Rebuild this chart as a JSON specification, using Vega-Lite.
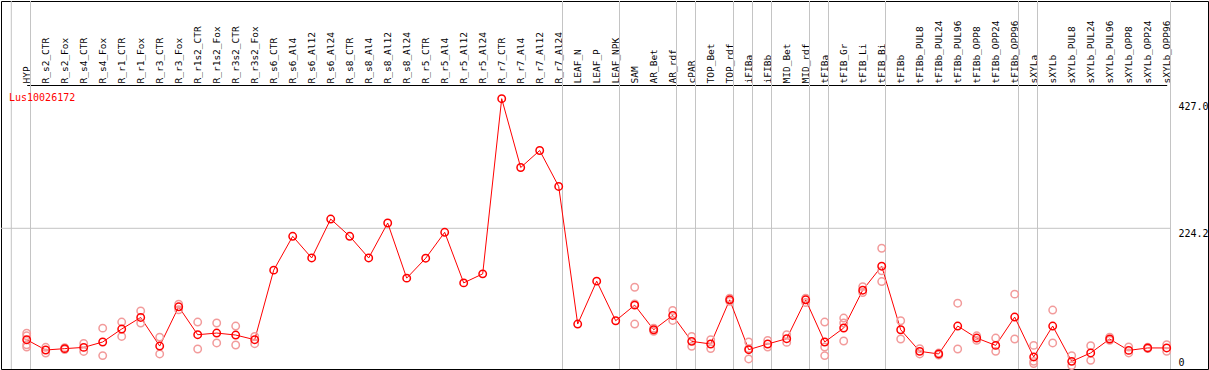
{
  "$schema": "https://vega.github.io/schema/vega-lite/v6.json",
  "width": 1207,
  "height": 368,
  "autosize": "none",
  "padding": {"left": 1, "top": 1, "right": 1, "bottom": 1},
  "background": "white",
  "view": {"stroke": "black", "strokeWidth": 1},
  "title": {
    "text": "Lus10026172",
    "color": "#ff0000",
    "font": "DejaVu Sans Mono",
    "fontSize": 10,
    "fontWeight": "normal",
    "anchor": "start",
    "frame": "group",
    "orient": "top",
    "offset": -110,
    "dx": 8,
    "baseline": "alphabetic"
  },
  "datasets": {
    "means": [
      {"sample": "HYP", "value": 49.9},
      {"sample": "R_s2_CTR", "value": 33.8},
      {"sample": "R_s2_Fox", "value": 35.9},
      {"sample": "R_s4_CTR", "value": 37.9},
      {"sample": "R_s4_Fox", "value": 46.3},
      {"sample": "R_r1_CTR", "value": 66.6},
      {"sample": "R_r1_Fox", "value": 84.7},
      {"sample": "R_r3_CTR", "value": 40.0},
      {"sample": "R_r3_Fox", "value": 101.4},
      {"sample": "R_r1s2_CTR", "value": 57.7},
      {"sample": "R_r1s2_Fox", "value": 60.3},
      {"sample": "R_r3s2_CTR", "value": 57.2},
      {"sample": "R_r3s2_Fox", "value": 49.9},
      {"sample": "R_s6_CTR", "value": 158.7},
      {"sample": "R_s6_Al4", "value": 211.7},
      {"sample": "R_s6_Al12", "value": 177.8},
      {"sample": "R_s6_Al24", "value": 238.7},
      {"sample": "R_s8_CTR", "value": 211.7},
      {"sample": "R_s8_Al4", "value": 177.8},
      {"sample": "R_s8_Al12", "value": 232.5},
      {"sample": "R_s8_Al24", "value": 146.2},
      {"sample": "R_r5_CTR", "value": 177.4},
      {"sample": "R_r5_Al4", "value": 217.9},
      {"sample": "R_r5_Al12", "value": 138.8},
      {"sample": "R_r5_Al24", "value": 152.9},
      {"sample": "R_r7_CTR", "value": 427.0},
      {"sample": "R_r7_Al4", "value": 319.3},
      {"sample": "R_r7_Al12", "value": 345.9},
      {"sample": "R_r7_Al24", "value": 289.7},
      {"sample": "LEAF_N", "value": 74.4},
      {"sample": "LEAF_P", "value": 141.5},
      {"sample": "LEAF_NPK", "value": 79.6},
      {"sample": "SAM", "value": 104.0},
      {"sample": "AR_Bet", "value": 65.5},
      {"sample": "AR_rdf", "value": 87.9},
      {"sample": "cPAR", "value": 47.3},
      {"sample": "TOP_Bet", "value": 43.2},
      {"sample": "TOP_rdf", "value": 112.3},
      {"sample": "iFIBa", "value": 34.3},
      {"sample": "iFIBb", "value": 43.2},
      {"sample": "MID_Bet", "value": 51.5},
      {"sample": "MID_rdf", "value": 112.3},
      {"sample": "tFIBa", "value": 46.3},
      {"sample": "tFIB_Gr", "value": 68.2},
      {"sample": "tFIB_Li", "value": 127.4},
      {"sample": "tFIB_Bi", "value": 164.9},
      {"sample": "tFIBb", "value": 65.5},
      {"sample": "tFIBb_PUL8", "value": 31.7},
      {"sample": "tFIBb_PUL24", "value": 27.6},
      {"sample": "tFIBb_PUL96", "value": 71.3},
      {"sample": "tFIBb_OPP8", "value": 52.5},
      {"sample": "tFIBb_OPP24", "value": 41.0},
      {"sample": "tFIBb_OPP96", "value": 85.3},
      {"sample": "sXYLa", "value": 22.9},
      {"sample": "sXYLb", "value": 71.3},
      {"sample": "sXYLb_PUL8", "value": 16.0},
      {"sample": "sXYLb_PUL24", "value": 29.2},
      {"sample": "sXYLb_PUL96", "value": 51.0},
      {"sample": "sXYLb_OPP8", "value": 33.2},
      {"sample": "sXYLb_OPP24", "value": 37.0},
      {"sample": "sXYLb_OPP96", "value": 37.0}
    ],
    "reps": [
      {"sample": "HYP", "value": 60}, {"sample": "HYP", "value": 56}, {"sample": "HYP", "value": 42}, {"sample": "HYP", "value": 38.5},
      {"sample": "R_s2_CTR", "value": 38}, {"sample": "R_s2_CTR", "value": 29},
      {"sample": "R_s2_Fox", "value": 37.5}, {"sample": "R_s2_Fox", "value": 34.5},
      {"sample": "R_s4_CTR", "value": 44}, {"sample": "R_s4_CTR", "value": 31.5},
      {"sample": "R_s4_Fox", "value": 68}, {"sample": "R_s4_Fox", "value": 25},
      {"sample": "R_r1_CTR", "value": 77.5}, {"sample": "R_r1_CTR", "value": 55},
      {"sample": "R_r1_Fox", "value": 95}, {"sample": "R_r1_Fox", "value": 76},
      {"sample": "R_r3_CTR", "value": 54}, {"sample": "R_r3_CTR", "value": 27.6},
      {"sample": "R_r3_Fox", "value": 105.6}, {"sample": "R_r3_Fox", "value": 96.7},
      {"sample": "R_r1s2_CTR", "value": 77.5}, {"sample": "R_r1s2_CTR", "value": 35.4},
      {"sample": "R_r1s2_Fox", "value": 76}, {"sample": "R_r1s2_Fox", "value": 44.8},
      {"sample": "R_r3s2_CTR", "value": 71.3}, {"sample": "R_r3s2_CTR", "value": 41.6},
      {"sample": "R_r3s2_Fox", "value": 55}, {"sample": "R_r3s2_Fox", "value": 43.7},
      {"sample": "SAM", "value": 132}, {"sample": "SAM", "value": 106}, {"sample": "SAM", "value": 74.4},
      {"sample": "AR_Bet", "value": 68}, {"sample": "AR_Bet", "value": 63},
      {"sample": "AR_rdf", "value": 95.6}, {"sample": "AR_rdf", "value": 80},
      {"sample": "cPAR", "value": 55}, {"sample": "cPAR", "value": 39.5},
      {"sample": "TOP_Bet", "value": 50}, {"sample": "TOP_Bet", "value": 36},
      {"sample": "TOP_rdf", "value": 115}, {"sample": "TOP_rdf", "value": 110},
      {"sample": "iFIBa", "value": 46.3}, {"sample": "iFIBa", "value": 36}, {"sample": "iFIBa", "value": 19.8},
      {"sample": "iFIBb", "value": 48.8}, {"sample": "iFIBb", "value": 38.5},
      {"sample": "MID_Bet", "value": 57.7}, {"sample": "MID_Bet", "value": 45.7},
      {"sample": "MID_rdf", "value": 115}, {"sample": "MID_rdf", "value": 108},
      {"sample": "tFIBa", "value": 77.5}, {"sample": "tFIBa", "value": 38.5}, {"sample": "tFIBa", "value": 25},
      {"sample": "tFIB_Gr", "value": 83.8}, {"sample": "tFIB_Gr", "value": 76}, {"sample": "tFIB_Gr", "value": 47.9},
      {"sample": "tFIB_Li", "value": 133}, {"sample": "tFIB_Li", "value": 123.7},
      {"sample": "tFIB_Bi", "value": 193}, {"sample": "tFIB_Bi", "value": 157.6}, {"sample": "tFIB_Bi", "value": 140.9},
      {"sample": "tFIBb", "value": 79.6}, {"sample": "tFIBb", "value": 51},
      {"sample": "tFIBb_PUL8", "value": 35.9}, {"sample": "tFIBb_PUL8", "value": 27.6},
      {"sample": "tFIBb_PUL24", "value": 29}, {"sample": "tFIBb_PUL24", "value": 26},
      {"sample": "tFIBb_PUL96", "value": 107}, {"sample": "tFIBb_PUL96", "value": 35.4},
      {"sample": "tFIBb_OPP8", "value": 56}, {"sample": "tFIBb_OPP8", "value": 48.8},
      {"sample": "tFIBb_OPP24", "value": 52.5}, {"sample": "tFIBb_OPP24", "value": 31.7},
      {"sample": "tFIBb_OPP96", "value": 121.2}, {"sample": "tFIBb_OPP96", "value": 51},
      {"sample": "sXYLa", "value": 41}, {"sample": "sXYLa", "value": 16}, {"sample": "sXYLa", "value": 12.5},
      {"sample": "sXYLb", "value": 96.3}, {"sample": "sXYLb", "value": 44.8},
      {"sample": "sXYLb_PUL8", "value": 25}, {"sample": "sXYLb_PUL8", "value": 9.4},
      {"sample": "sXYLb_PUL24", "value": 40.6}, {"sample": "sXYLb_PUL24", "value": 17.6},
      {"sample": "sXYLb_PUL96", "value": 54}, {"sample": "sXYLb_PUL96", "value": 49},
      {"sample": "sXYLb_OPP8", "value": 38.5}, {"sample": "sXYLb_OPP8", "value": 29.2},
      {"sample": "sXYLb_OPP24", "value": 38}, {"sample": "sXYLb_OPP24", "value": 36},
      {"sample": "sXYLb_OPP96", "value": 42}, {"sample": "sXYLb_OPP96", "value": 31.7}
    ],
    "groupEnds": [
      {"sample": "HYP"}, {"sample": "R_r7_Al24"}, {"sample": "LEAF_NPK"}, {"sample": "AR_rdf"},
      {"sample": "cPAR"}, {"sample": "TOP_rdf"}, {"sample": "iFIBa"}, {"sample": "iFIBb"},
      {"sample": "MID_rdf"}, {"sample": "tFIBa"}, {"sample": "tFIB_Bi"}, {"sample": "tFIBb_OPP96"},
      {"sample": "sXYLa"}, {"sample": "sXYLb_OPP96"}
    ],
    "groupStart": [{"sample": "HYP"}],
    "midline": [{"sample": "HYP", "end": "sXYLb_OPP96", "value": 224.2}]
  },
  "encoding": {
    "x": {
      "field": "sample",
      "type": "nominal",
      "scale": {
        "type": "point",
        "padding": 0,
        "range": [25.7, 1165.7],
        "domain": ["HYP","R_s2_CTR","R_s2_Fox","R_s4_CTR","R_s4_Fox","R_r1_CTR","R_r1_Fox","R_r3_CTR","R_r3_Fox","R_r1s2_CTR","R_r1s2_Fox","R_r3s2_CTR","R_r3s2_Fox","R_s6_CTR","R_s6_Al4","R_s6_Al12","R_s6_Al24","R_s8_CTR","R_s8_Al4","R_s8_Al12","R_s8_Al24","R_r5_CTR","R_r5_Al4","R_r5_Al12","R_r5_Al24","R_r7_CTR","R_r7_Al4","R_r7_Al12","R_r7_Al24","LEAF_N","LEAF_P","LEAF_NPK","SAM","AR_Bet","AR_rdf","cPAR","TOP_Bet","TOP_rdf","iFIBa","iFIBb","MID_Bet","MID_rdf","tFIBa","tFIB_Gr","tFIB_Li","tFIB_Bi","tFIBb","tFIBb_PUL8","tFIBb_PUL24","tFIBb_PUL96","tFIBb_OPP8","tFIBb_OPP24","tFIBb_OPP96","sXYLa","sXYLb","sXYLb_PUL8","sXYLb_PUL24","sXYLb_PUL96","sXYLb_OPP8","sXYLb_OPP24","sXYLb_OPP96"]
      },
      "axis": {
        "orient": "top",
        "offset": -84,
        "title": null,
        "labelAngle": -90,
        "labelAlign": "left",
        "labelBaseline": "middle",
        "labelFont": "DejaVu Sans Mono",
        "labelFontSize": 9.5,
        "labelColor": "black",
        "labelPadding": 2,
        "labelOverlap": false,
        "labelBound": false,
        "labelLimit": 0,
        "ticks": false,
        "grid": false,
        "domain": true,
        "domainColor": "black",
        "domainWidth": 1
      }
    }
  },
  "layer": [
    {
      "data": {"name": "groupEnds"},
      "mark": {"type": "rule", "color": "#c4c4c4", "strokeWidth": 1, "xOffset": 3.8},
      "encoding": {}
    },
    {
      "data": {"name": "groupStart"},
      "mark": {"type": "rule", "color": "#c4c4c4", "strokeWidth": 1, "xOffset": -15.4},
      "encoding": {}
    },
    {
      "data": {"name": "midline"},
      "mark": {"type": "rule", "color": "#c4c4c4", "strokeWidth": 1, "xOffset": -25.7, "x2Offset": 3.8},
      "encoding": {
        "x2": {"field": "end"},
        "y": {
          "field": "value",
          "type": "quantitative",
          "scale": {"domain": [0, 448.4], "range": [370.6, 84], "nice": false, "zero": false},
          "axis": {
            "orient": "right", "offset": -37, "title": null, "values": [0, 224.2, 427],
            "labelExpr": "datum.value == 0 ? '0' : format(datum.value, '.1f')",
            "labelFont": "DejaVu Sans Mono", "labelFontSize": 10, "labelColor": "black", "labelAlign": "left",
            "labelBaseline": {"condition": {"test": "datum.value == 0", "value": "bottom"}, "value": "top"},
            "labelOffset": {"condition": [{"test": "datum.value == 0", "value": -4}, {"test": "datum.value > 400", "value": 3}], "value": 0},
            "labelPadding": 7, "labelOverlap": false, "labelBound": false, "labelFlush": false,
            "domain": false, "ticks": false, "grid": false
          }
        }
      }
    },
    {
      "data": {"name": "means"},
      "mark": {"type": "line", "color": "#ff0000", "strokeWidth": 1},
      "encoding": {
        "y": {
          "field": "value",
          "type": "quantitative",
          "scale": {"domain": [0, 448.4], "range": [370.6, 84], "nice": false, "zero": false},
          "axis": {
            "orient": "right", "offset": -37, "title": null, "values": [0, 224.2, 427],
            "labelExpr": "datum.value == 0 ? '0' : format(datum.value, '.1f')",
            "labelFont": "DejaVu Sans Mono", "labelFontSize": 10, "labelColor": "black", "labelAlign": "left",
            "labelBaseline": {"condition": {"test": "datum.value == 0", "value": "bottom"}, "value": "top"},
            "labelOffset": {"condition": [{"test": "datum.value == 0", "value": -4}, {"test": "datum.value > 400", "value": 3}], "value": 0},
            "labelPadding": 7, "labelOverlap": false, "labelBound": false, "labelFlush": false,
            "domain": false, "ticks": false, "grid": false
          }
        }
      }
    },
    {
      "data": {"name": "reps"},
      "mark": {"type": "point", "shape": "circle", "filled": false, "color": "#f29b9b", "size": 55, "strokeWidth": 1.5, "opacity": 1},
      "encoding": {
        "y": {
          "field": "value",
          "type": "quantitative",
          "scale": {"domain": [0, 448.4], "range": [370.6, 84], "nice": false, "zero": false},
          "axis": {
            "orient": "right", "offset": -37, "title": null, "values": [0, 224.2, 427],
            "labelExpr": "datum.value == 0 ? '0' : format(datum.value, '.1f')",
            "labelFont": "DejaVu Sans Mono", "labelFontSize": 10, "labelColor": "black", "labelAlign": "left",
            "labelBaseline": {"condition": {"test": "datum.value == 0", "value": "bottom"}, "value": "top"},
            "labelOffset": {"condition": [{"test": "datum.value == 0", "value": -4}, {"test": "datum.value > 400", "value": 3}], "value": 0},
            "labelPadding": 7, "labelOverlap": false, "labelBound": false, "labelFlush": false,
            "domain": false, "ticks": false, "grid": false
          }
        }
      }
    },
    {
      "data": {"name": "means"},
      "mark": {"type": "point", "shape": "circle", "filled": false, "color": "#ff0000", "size": 55, "strokeWidth": 1.5, "opacity": 1},
      "encoding": {
        "y": {
          "field": "value",
          "type": "quantitative",
          "scale": {"domain": [0, 448.4], "range": [370.6, 84], "nice": false, "zero": false},
          "axis": {
            "orient": "right", "offset": -37, "title": null, "values": [0, 224.2, 427],
            "labelExpr": "datum.value == 0 ? '0' : format(datum.value, '.1f')",
            "labelFont": "DejaVu Sans Mono", "labelFontSize": 10, "labelColor": "black", "labelAlign": "left",
            "labelBaseline": {"condition": {"test": "datum.value == 0", "value": "bottom"}, "value": "top"},
            "labelOffset": {"condition": [{"test": "datum.value == 0", "value": -4}, {"test": "datum.value > 400", "value": 3}], "value": 0},
            "labelPadding": 7, "labelOverlap": false, "labelBound": false, "labelFlush": false,
            "domain": false, "ticks": false, "grid": false
          }
        }
      }
    }
  ]
}
